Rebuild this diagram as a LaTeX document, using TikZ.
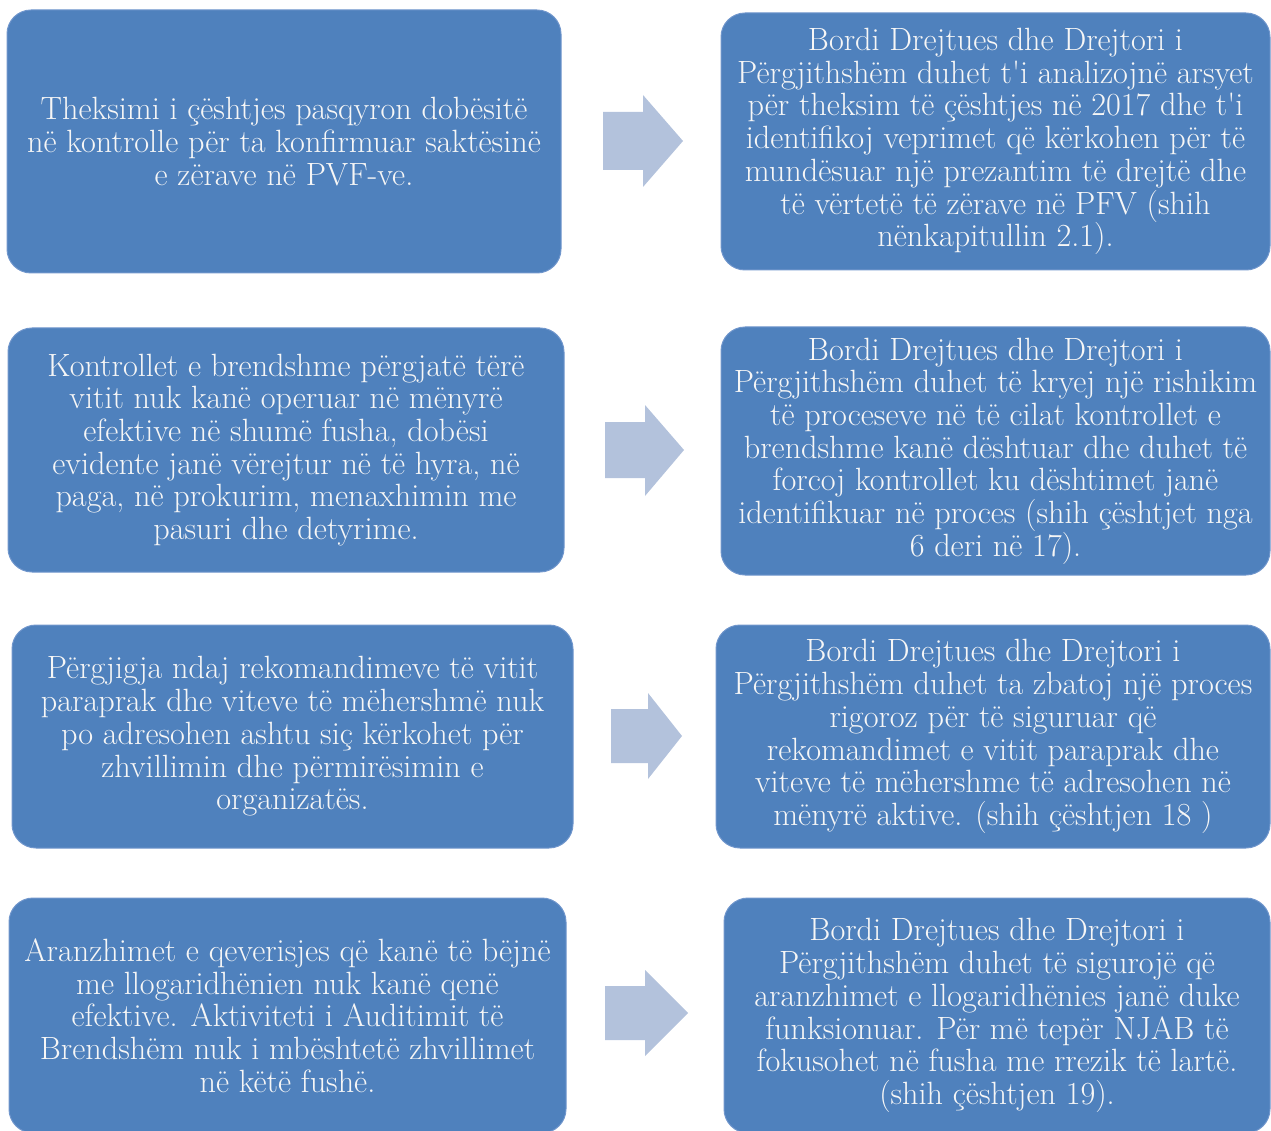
\documentclass[tikz,border=0pt]{standalone}
\usepackage{fontspec}
\definecolor{boxblue}{RGB}{79,129,189}
\definecolor{boxedge}{RGB}{112,150,204}
\definecolor{arrowblue}{RGB}{179,194,220}
\definecolor{txt}{RGB}{246,246,246}
\begin{document}
\begin{tikzpicture}[x=1pt,y=-1pt,
  box/.style={draw=boxedge, line width=1pt, fill=boxblue, rounded corners=24pt,
    inner sep=0pt, text=txt, align=center, font=\fontsize{32.2}{32.7}\selectfont},
  blockarrow/.style={fill=arrowblue, draw=none}]
\useasboundingbox (0,0) rectangle (1271,1131);
\clip (0,0) rectangle (1271,1131);

% left column
\node[box, minimum width=554pt, minimum height=263pt] (l1) at (284,141.5)
  {Theksimi i çështjes pasqyron dobësitë\\ në kontrolle për ta konfirmuar saktësinë\\ e zërave në PVF-ve.};
\node[box, minimum width=556pt, minimum height=244pt] (l2) at (286,450)
  {Kontrollet e brendshme përgjatë tërë\\ vitit nuk kanë operuar në mënyrë\\ efektive në shumë fusha, dobësi\\ evidente janë vërejtur në të hyra, në\\ paga, në prokurim, menaxhimin me\\ pasuri dhe detyrime.};
\node[box, minimum width=561pt, minimum height=223pt] (l3) at (292.5,736.5)
  {Përgjigja ndaj rekomandimeve të vitit\\ paraprak dhe viteve të mëhershmë nuk\\ po adresohen ashtu siç kërkohet për\\ zhvillimin dhe përmirësimin e\\ organizatës.};
\node[box, minimum width=557pt, minimum height=235pt] (l4) at (287.5,1015.5)
  {Aranzhimet e qeverisjes që kanë të bëjnë\\ me llogaridhënien nuk kanë qenë\\ efektive. Aktiviteti i Auditimit të\\ Brendshëm nuk i mbështetë zhvillimet\\ në këtë fushë.};

% right column
\node[box, minimum width=549pt, minimum height=257pt] (r1) at (995.5,141.5)
  {Bordi Drejtues dhe Drejtori i\\ Përgjithshëm duhet t\textquotesingle i analizojnë arsyet\\ për theksim të çështjes në 2017 dhe t\textquotesingle i\\ identifikoj veprimet që kërkohen për të\\ mundësuar një prezantim të drejtë dhe\\ të vërtetë të zërave në PFV (shih\\ nënkapitullin 2.1).};
\node[box, minimum width=549pt, minimum height=248pt] (r2) at (995.5,451)
  {Bordi Drejtues dhe Drejtori i\\ Përgjithshëm duhet të kryej një rishikim\\ të proceseve në të cilat kontrollet e\\ brendshme kanë dështuar dhe duhet të\\ forcoj kontrollet ku dështimet janë\\ identifikuar në proces (shih çështjet nga\\ 6 deri në 17).};
\node[box, minimum width=554pt, minimum height=223pt] (r3) at (993,736.5)
  {Bordi Drejtues dhe Drejtori i\\ Përgjithshëm duhet ta zbatoj një proces\\ rigoroz për të siguruar që\\ rekomandimet e vitit paraprak dhe\\ viteve të mëhershme të adresohen në\\ mënyrë aktive. (shih çështjen 18 )};
\node[box, minimum width=546pt, minimum height=235pt] (r4) at (997,1015.5)
  {Bordi Drejtues dhe Drejtori i\\ Përgjithshëm duhet të sigurojë që\\ aranzhimet e llogaridhënies janë duke\\ funksionuar. Për më tepër NJAB të\\ fokusohet në fusha me rrezik të lartë.\\ (shih çështjen 19).};

% block arrows
\fill[blockarrow] (603,112) -- (643,112) -- (643,95) -- (683,141) -- (643,187) -- (643,170) -- (603,170) -- cycle;
\fill[blockarrow] (605,422) -- (645,422) -- (645,405) -- (684,450) -- (645,496) -- (645,478) -- (605,478) -- cycle;
\fill[blockarrow] (611,709) -- (648,709) -- (648,693) -- (682,736) -- (648,779) -- (648,763) -- (611,763) -- cycle;
\fill[blockarrow] (605,986) -- (645,986) -- (645,970) -- (688,1013) -- (645,1056) -- (645,1040) -- (605,1040) -- cycle;
\end{tikzpicture}
\end{document}
